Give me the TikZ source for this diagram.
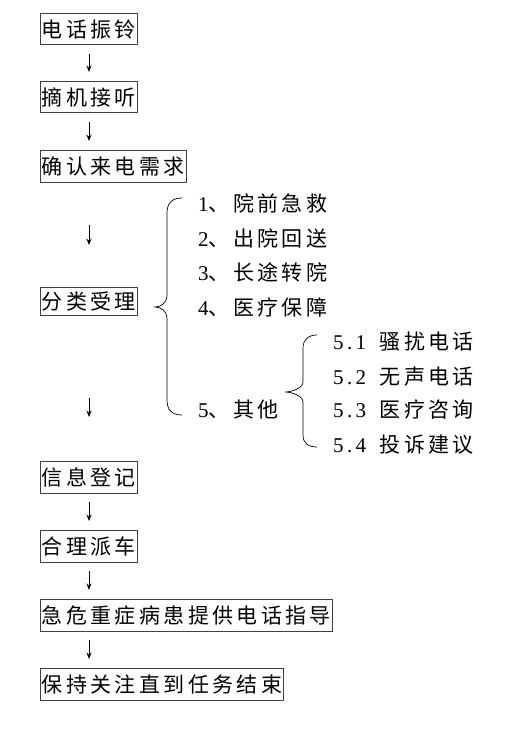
\documentclass[tikz,border=0pt]{standalone}
\usepackage{fontspec}
\setmainfont[LetterSpace=16]{Liberation Serif}
\newfontfamily\cjk[LetterSpace=16]{Noto Sans CJK SC}
\usetikzlibrary{arrows.meta}
\newcommand\txtf{\fontsize{21}{24}\selectfont}
\begin{document}
\begin{tikzpicture}[x=1pt,y=-1pt,
  box/.style={draw=black!75, line width=0.8pt, inner xsep=1.5pt, inner ysep=0pt,
    minimum height=31.5pt, anchor=north west, font=\txtf},
  item/.style={anchor=west, inner sep=0pt, font=\txtf},
  arr/.style={-{Stealth[length=6.5pt,width=5pt]}, line width=0.75pt},
  gap/.style={shorten <=9pt, shorten >=9pt},
  bracepath/.style={line width=0.7pt}]
\useasboundingbox (0,0) rectangle (526,730);
\coordinate (ax) at (89,0);

\node[box] (b1) at (40,13) {\cjk 电话振铃};
\node[box] (b2) at (40,81) {\cjk 摘机接听};
\node[box] (b3) at (40,150) {\cjk 确认来电需求};
\node[box, minimum height=28pt] (b4) at (40,287) {\cjk 分类受理};
\node[box] (b5) at (40,461) {\cjk 信息登记};
\node[box] (b6) at (40,530) {\cjk 合理派车};
\node[box] (b7) at (40,599) {\cjk 急危重症病患提供电话指导};
\node[box] (b8) at (40,668) {\cjk 保持关注直到任务结束};

\draw[arr, gap] (b1.south -| ax) -- (b2.north -| ax);
\draw[arr, gap] (b2.south -| ax) -- (b3.north -| ax);
\coordinate (a3s) at (89,225);
\coordinate (a3e) at (89,245);
\draw[arr] (a3s) -- (a3e);
\coordinate (a4s) at (89,398);
\coordinate (a4e) at (89,417);
\draw[arr] (a4s) -- (a4e);
\draw[arr, gap] (b5.south -| ax) -- (b6.north -| ax);
\draw[arr, gap] (b6.south -| ax) -- (b7.north -| ax);
\draw[arr, gap] (b7.south -| ax) -- (b8.north -| ax);

% big brace
\draw[bracepath] (182,198) .. controls (172,198) and (167,203) .. (167,213)
  -- (167,295) .. controls (167,303) and (161,307) .. (155,307)
  .. controls (161,307) and (167,311) .. (167,319)
  -- (167,400) .. controls (167,410) and (172,415) .. (182,415);

\node[item] (i1) at (198,203) {1{\cjk 、院前急救}};
\node[item] (i2) at (198,238) {2{\cjk 、出院回送}};
\node[item] (i3) at (198,272) {3{\cjk 、长途转院}};
\node[item] (i4) at (198,307) {4{\cjk 、医疗保障}};
\node[item] (i5) at (198,410) {5{\cjk 、其他}};

% sub brace
\draw[bracepath] (317,335) .. controls (308,335) and (303,340) .. (303,348)
  -- (303,382) .. controls (303,388) and (292,392) .. (285,392)
  .. controls (292,392) and (303,396) .. (303,402)
  -- (303,435) .. controls (303,443) and (308,447) .. (317,447);

\node[item] (s1) at (333,342) {5.1 \hspace{5pt}{\cjk 骚扰电话}};
\node[item] (s2) at (333,377) {5.2 \hspace{5pt}{\cjk 无声电话}};
\node[item] (s3) at (333,410) {5.3 \hspace{5pt}{\cjk 医疗咨询}};
\node[item] (s4) at (333,445) {5.4 \hspace{5pt}{\cjk 投诉建议}};
\end{tikzpicture}
\end{document}
